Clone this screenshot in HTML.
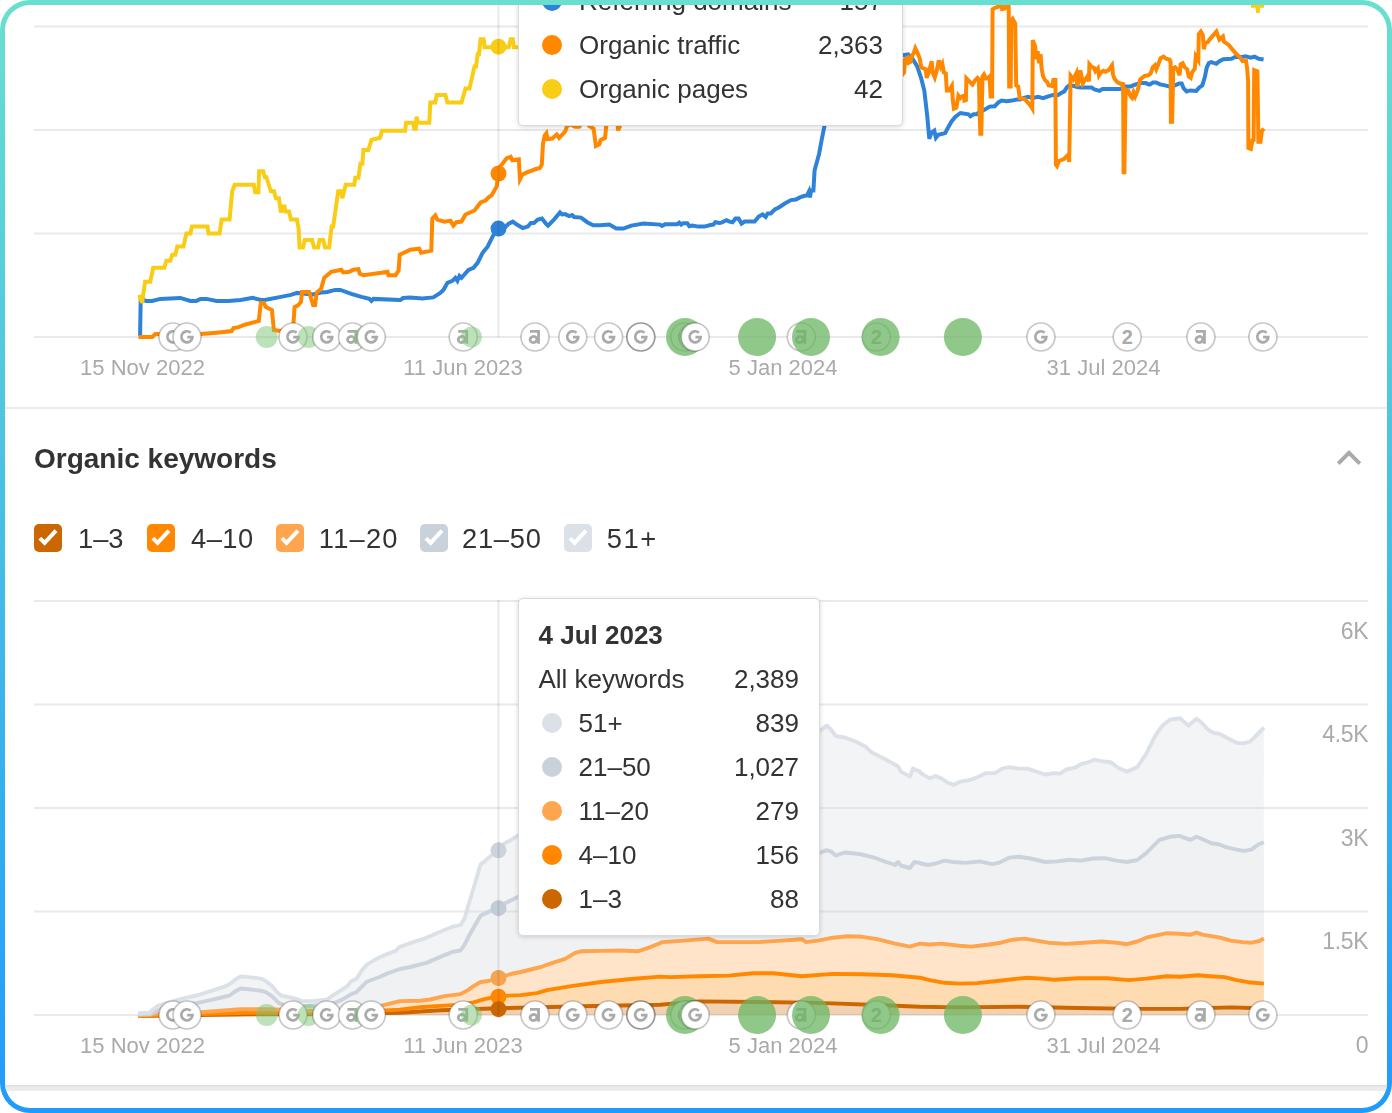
<!DOCTYPE html>
<html><head><meta charset="utf-8"><title>Organic keywords</title>
<style>
html,body{margin:0;padding:0;background:#fff}
body{width:1392px;height:1113px;overflow:hidden;position:relative;font-family:"Liberation Sans",sans-serif}
#frame{position:absolute;left:0;top:0;width:1392px;height:1113px;border-radius:30px;background:linear-gradient(180deg,#69dfd0 0%,#219bfb 100%)}
#inner{position:absolute;left:5px;top:5px;width:1382px;height:1103px;border-radius:25px;background:#fff;overflow:hidden}
#c{position:absolute;left:-5px;top:-5px;width:1392px;height:1113px;will-change:transform}
.t{position:absolute;white-space:nowrap}
.cb{position:absolute;width:28px;height:28px;border-radius:5px}
.cb svg{display:block}
.dot{position:absolute;width:20px;height:20px;border-radius:50%}
.tip{position:absolute;background:#fff;border:1px solid #dadada;border-radius:5px;box-shadow:0 1px 5px rgba(0,0,0,0.16)}
</style></head><body>
<div id="frame"><div id="inner">
<svg width="1392" height="1113" viewBox="0 0 1392 1113" style="position:absolute;left:-5px;top:-5px"><rect x="34" y="25.5" width="1334" height="2" fill="#e9e9e9"/>
<rect x="34" y="129" width="1334" height="2" fill="#e9e9e9"/>
<rect x="34" y="232.5" width="1334" height="2" fill="#e9e9e9"/>
<rect x="34" y="336" width="1334" height="2" fill="#e9e9e9"/>
<rect x="34" y="600" width="1334" height="2" fill="#e9e9e9"/>
<rect x="34" y="703.5" width="1334" height="2" fill="#e9e9e9"/>
<rect x="34" y="807" width="1334" height="2" fill="#e9e9e9"/>
<rect x="34" y="910.5" width="1334" height="2" fill="#e9e9e9"/>
<rect x="34" y="1014" width="1334" height="2" fill="#e9e9e9"/>
<rect x="0" y="407" width="1392" height="2" fill="#ebebeb"/>
<rect x="0" y="1085" width="1392" height="6" fill="#ebecee"/>
<rect x="0" y="1085" width="1392" height="1.5" fill="#dcdfe2"/>
<path d="M140.1,336.1 L140.7,298.9 L146.1,300.9 L152.2,300.9 L160.2,298.9 L180.3,297.9 L190.4,300.9 L196.4,300.9 L200.5,298.9 L206.5,298.9 L216.6,300.9 L228.6,300.9 L240.7,299.9 L252.8,297.9 L260.8,299.9 L264.8,299.9 L280.9,296.9 L291.0,294.9 L297.0,292.9 L313.1,294.5 L321.1,292.5 L327.2,291.9 L335.2,289.9 L340.3,289.9 L351.3,293.9 L361.4,296.9 L369.4,298.9 L371.4,300.9 L373.4,298.9 L400.0,299.9 L401.1,299.6 L403.1,298.0 L410.2,297.4 L422.2,298.4 L433.3,297.4 L440.3,293.0 L443.4,290.0 L447.4,282.9 L452.4,280.9 L455.4,277.9 L457.4,280.9 L459.5,275.9 L461.5,277.9 L468.5,269.9 L473.5,267.8 L477.6,262.8 L482.6,252.8 L487.6,246.7 L491.6,238.7 L494.7,232.6 L498.3,228.6 L504.7,227.6 L508.7,223.6 L512.8,221.6 L516.8,224.6 L522.8,228.0 L527.8,226.6 L530.9,223.0 L533.9,223.0 L537.9,219.6 L541.9,218.6 L545.9,223.6 L548.0,225.6 L554.0,219.6 L560.0,212.5 L562.0,214.5 L565.1,214.1 L569.1,216.1 L572.1,215.1 L574.1,217.0 L581.1,217.6 L587.2,222.2 L593.2,225.2 L600.3,225.2 L609.3,224.6 L616.4,228.6 L623.4,228.6 L631.4,225.6 L643.5,223.6 L660.0,224.6 L662.1,226.0 L665.1,224.2 L677.2,224.2 L679.2,222.6 L681.2,224.6 L683.2,223.2 L687.3,223.2 L689.3,226.2 L692.3,225.6 L698.3,226.6 L704.4,226.6 L710.4,225.0 L713.4,224.6 L715.4,222.2 L719.5,223.0 L721.5,222.6 L726.5,220.2 L729.5,221.6 L732.5,222.2 L735.5,218.6 L738.6,218.6 L741.6,223.6 L744.6,221.6 L754.7,221.6 L758.7,216.6 L762.7,214.5 L765.7,217.0 L767.7,213.5 L770.7,213.5 L774.8,209.5 L778.8,207.5 L784.8,203.5 L790.9,200.1 L795.9,199.5 L799.9,197.4 L803.9,196.0 L807.0,195.4 L809.0,191.4 L810.0,197.4 L811.0,190.4 L813.4,190.4 L814.6,170.3 L819.0,154.2 L822.0,138.1 L824.7,125.0 L867.9,84.5 L876.0,66.4 L886.0,58.3 L896.1,55.9 L903.1,55.3 L908.2,54.3 L912.2,58.3 L917.2,66.4 L921.2,78.4 L924.3,90.5 L927.3,116.7 L929.3,138.8 L931.3,132.8 L934.3,130.7 L935.9,137.8 L938.3,134.8 L942.4,133.8 L945.4,132.8 L947.4,128.7 L951.4,121.7 L955.4,116.7 L960.5,113.0 L968.5,114.3 L970.5,116.3 L973.5,114.3 L976.6,114.3 L980.6,111.0 L984.6,109.6 L989.6,106.6 L994.7,106.2 L998.7,102.2 L1001.7,100.6 L1006.7,101.2 L1011.8,100.6 L1016.8,99.6 L1020.0,99.5 L1024.0,97.9 L1028.0,96.9 L1033.1,97.9 L1038.1,96.9 L1043.1,98.2 L1048.2,96.4 L1053.2,94.9 L1058.2,94.9 L1061.2,92.9 L1064.3,91.4 L1066.8,87.4 L1069.3,85.4 L1074.3,85.9 L1076.3,86.9 L1080.3,87.4 L1085.4,87.4 L1091.4,87.4 L1094.4,89.4 L1099.5,90.9 L1102.5,88.9 L1120.6,88.9 L1124.6,86.4 L1130.6,86.4 L1135.7,84.4 L1140.7,82.9 L1145.7,82.9 L1148.7,84.4 L1150.0,84.4 L1153.0,82.4 L1156.0,82.4 L1160.1,84.4 L1165.1,85.4 L1169.1,86.4 L1175.1,85.4 L1179.2,83.4 L1181.7,83.4 L1183.7,88.4 L1186.7,91.4 L1190.2,90.4 L1196.3,90.9 L1199.3,87.4 L1202.3,85.4 L1204.8,77.3 L1206.8,67.3 L1208.8,63.2 L1211.4,62.2 L1216.4,63.8 L1219.4,61.2 L1223.4,59.2 L1231.5,58.7 L1235.5,56.7 L1240.5,57.2 L1245.5,56.2 L1250.6,57.7 L1254.6,56.7 L1258.6,58.7 L1263.6,59.4" fill="none" stroke="#2e83d8" stroke-width="4" stroke-linejoin="miter"/>
<path d="M138.5,337.1 L152.2,337.1 L155.2,334.1 L160.2,334.1 L180.3,334.7 L200.5,334.1 L216.6,332.7 L231.6,331.1 L233.6,328.1 L238.7,327.1 L244.7,324.7 L258.8,321.0 L260.8,302.9 L263.8,302.9 L265.8,307.0 L271.9,310.0 L273.9,330.1 L280.9,331.1 L293.4,324.1 L294.6,307.0 L298.0,305.3 L301.0,301.9 L302.0,291.9 L309.1,291.9 L313.1,304.9 L315.1,304.9 L316.7,292.5 L321.1,288.9 L324.2,277.8 L331.2,271.8 L341.3,269.7 L343.3,272.4 L349.3,271.8 L353.3,269.7 L358.4,269.1 L359.8,273.8 L363.4,275.2 L381.5,272.8 L387.5,271.8 L388.5,275.2 L395.6,275.2 L398.6,270.7 L399.7,254.8 L410.2,249.7 L419.2,248.7 L421.2,252.8 L431.3,250.7 L432.3,218.6 L435.3,215.5 L437.3,219.6 L444.4,221.6 L450.4,220.6 L453.4,225.6 L456.4,222.2 L461.5,221.6 L465.5,214.5 L474.5,210.5 L480.6,202.5 L485.6,200.5 L488.6,197.4 L491.6,195.4 L496.7,186.4 L498.3,173.9 L499.7,167.3 L506.7,158.2 L510.7,156.8 L512.4,160.2 L518.8,159.2 L520.0,179.3 L522.3,174.7 L526.9,172.4 L536.1,169.0 L540.1,167.8 L541.8,164.4 L543.0,143.7 L544.7,135.6 L546.4,133.3 L547.6,139.1 L552.2,138.5 L556.8,134.5 L559.1,137.9 L562.5,134.5 L565.4,131.0 L567.1,125.9 L570.6,124.4 L575.2,126.7 L579.2,126.7 L582.1,123.0 L586.7,121.8 L589.0,125.9 L593.6,128.7 L595.9,146.0 L599.3,144.3 L600.5,140.2 L605.1,137.9 L606.2,125.9 L610.8,120.7 L616.6,123.0 L617.7,125.9 L618.0,130.5 L620.0,125.9 L621.1,117.2 L630.0,110.0 L660.0,95.0 L700.0,85.0 L740.0,80.0 L780.0,75.0 L820.0,70.0 L860.0,68.0 L890.0,66.0 L902.6,74.4 L904.1,72.4 L905.1,59.3 L907.6,57.8 L908.6,62.9 L910.6,61.9 L911.6,56.3 L913.6,53.3 L915.3,48.3 L917.7,53.3 L919.7,58.3 L921.2,67.4 L923.7,68.4 L925.7,69.4 L926.7,77.9 L928.7,72.4 L931.7,61.4 L932.7,72.4 L934.8,77.4 L936.8,70.4 L938.8,60.3 L940.8,66.9 L942.3,63.9 L943.8,72.4 L945.8,73.4 L946.8,90.5 L949.3,90.5 L951.9,86.0 L952.9,100.6 L953.9,108.6 L956.4,107.6 L958.4,95.5 L960.4,98.1 L961.9,96.6 L963.9,95.5 L964.4,100.6 L965.9,100.1 L966.4,78.4 L968.4,80.5 L972.5,84.5 L975.0,80.5 L977.5,77.9 L979.0,79.5 L979.5,110.0 L980.3,133.8 L981.3,133.8 L982.5,76.4 L984.0,74.4 L986.0,78.4 L988.1,77.9 L989.6,76.4 L990.6,96.6 L992.1,96.6 L992.6,9.1 L995.6,7.5 L999.1,6.5 L1001.1,5.0 L1002.1,9.1 L1004.7,8.5 L1005.7,5.0 L1008.7,5.0 L1009.2,86.5 L1010.7,86.5 L1011.2,21.6 L1012.7,19.1 L1015.2,23.6 L1016.2,85.5 L1018.2,86.5 L1019.7,98.1 L1024.8,99.1 L1028.8,103.6 L1031.1,106.5 L1032.3,108.5 L1032.8,40.1 L1035.1,46.1 L1036.1,59.2 L1037.6,51.2 L1039.1,63.2 L1040.6,54.2 L1041.6,68.3 L1043.1,76.3 L1045.1,80.3 L1047.2,81.9 L1048.7,85.4 L1052.2,85.9 L1053.4,80.1 L1055.4,80.1 L1055.9,164.5 L1057.0,166.0 L1059.0,161.0 L1064.0,159.0 L1068.0,155.0 L1069.2,162.0 L1070.6,75.8 L1073.3,79.3 L1074.8,76.3 L1076.3,73.3 L1077.1,86.4 L1079.3,80.3 L1080.3,70.3 L1082.9,83.4 L1085.4,79.3 L1087.4,76.3 L1088.9,81.4 L1089.4,64.3 L1091.9,67.3 L1093.9,67.8 L1095.4,71.3 L1097.9,68.3 L1099.0,75.3 L1101.0,72.3 L1103.5,70.8 L1105.5,71.8 L1108.5,70.3 L1112.0,65.3 L1113.0,74.3 L1114.5,78.8 L1117.1,81.9 L1119.6,83.4 L1122.1,84.4 L1123.1,82.4 L1123.6,172.3 L1124.4,172.3 L1125.6,89.4 L1128.1,90.4 L1130.6,96.4 L1132.1,97.9 L1133.6,92.4 L1135.2,96.4 L1137.7,90.4 L1140.2,79.3 L1144.7,75.8 L1148.2,75.3 L1150.7,73.3 L1152.8,67.3 L1154.8,65.3 L1156.3,69.3 L1158.3,64.3 L1160.6,58.2 L1163.6,56.7 L1166.1,58.7 L1169.6,59.7 L1170.6,62.2 L1170.9,121.8 L1172.1,121.8 L1173.3,68.3 L1175.1,67.3 L1177.7,70.3 L1179.5,75.3 L1180.7,64.3 L1182.7,63.2 L1184.7,67.3 L1187.2,69.3 L1188.7,76.3 L1190.7,77.8 L1192.2,72.3 L1194.8,68.8 L1195.8,56.2 L1198.3,60.2 L1198.8,34.1 L1200.8,31.6 L1202.8,35.1 L1203.8,49.2 L1205.3,43.1 L1207.8,42.1 L1210.3,38.6 L1213.4,35.1 L1216.4,31.6 L1219.4,39.6 L1222.9,36.6 L1223.9,41.6 L1229.0,45.1 L1232.5,49.7 L1236.5,54.2 L1240.0,57.2 L1242.5,61.2 L1246.0,60.7 L1247.1,68.3 L1248.1,80.3 L1248.4,147.9 L1250.8,148.9 L1252.8,138.8 L1253.6,141.8 L1254.2,70.2 L1257.4,71.4 L1258.4,141.8 L1260.5,141.8 L1261.9,130.8 L1263.9,128.7" fill="none" stroke="#ff8800" stroke-width="4" stroke-linejoin="miter"/>
<path d="M139.1,294.9 L142.1,302.9 L145.1,281.8 L150.2,281.8 L153.2,267.7 L164.3,267.7 L166.3,260.7 L170.3,260.7 L172.3,254.7 L175.3,254.7 L177.3,246.6 L183.4,246.6 L186.4,233.5 L190.4,233.5 L192.0,226.5 L207.5,226.5 L208.5,233.5 L219.6,233.5 L221.6,219.5 L229.6,219.5 L232.2,191.3 L234.7,184.7 L253.8,184.7 L255.2,192.3 L258.4,192.3 L259.2,171.2 L263.2,171.2 L264.8,177.2 L266.4,177.2 L270.9,191.3 L273.9,191.3 L275.9,198.3 L278.9,198.3 L280.9,212.4 L282.5,206.4 L284.5,206.4 L285.3,211.4 L289.0,211.4 L291.0,219.5 L297.0,219.5 L298.6,228.5 L299.6,247.6 L303.0,247.6 L304.7,240.0 L312.1,240.0 L314.1,247.6 L318.1,247.6 L319.5,240.0 L323.2,240.0 L325.2,247.6 L329.2,247.6 L331.6,226.5 L333.2,226.5 L338.2,191.3 L341.3,191.3 L342.3,198.3 L345.7,184.7 L354.3,184.7 L355.3,177.8 L358.4,177.8 L360.4,163.7 L362.4,163.7 L363.4,150.1 L368.4,150.1 L371.4,140.0 L380.0,137.8 L382.0,130.7 L405.1,130.7 L406.1,122.7 L413.2,122.7 L414.2,128.7 L415.8,128.7 L416.6,116.7 L417.8,122.7 L429.3,122.7 L430.3,102.6 L435.3,102.6 L436.7,94.9 L445.4,94.9 L447.4,102.6 L461.5,102.6 L463.5,95.5 L465.5,88.5 L469.5,88.5 L474.5,66.4 L476.1,66.4 L477.6,54.3 L479.0,54.3 L480.6,39.2 L483.6,39.2 L484.6,47.3 L508.7,47.3 L510.7,39.2 L512.8,39.2 L513.8,47.3 L520.8,47.3" fill="none" stroke="#f9cd15" stroke-width="4" stroke-linejoin="miter"/>
<path d="M1251,3 L1264,3 L1264,7.7 L1260.1,7.7 L1259.7,13 L1256.1,13 L1255.6,7.7 L1251,7.7 Z" fill="#f9cd15"/>
<circle cx="498.5" cy="46.7" r="8" fill="#f9cd15"/>
<circle cx="498.5" cy="173.5" r="8" fill="#ff8800"/>
<circle cx="498.5" cy="228.6" r="8" fill="#2e83d8"/>
<path d="M138.1,1013.2 L149.2,1012.8 L153.2,1009.2 L157.2,1006.2 L166.3,1003.2 L180.3,999.1 L196.4,995.5 L210.5,991.1 L224.6,986.7 L229.6,984.1 L235.7,979.4 L240.7,976.4 L250.7,977.4 L260.8,978.6 L265.8,981.0 L271.9,986.1 L276.9,992.1 L280.9,995.5 L289.0,997.1 L297.0,999.1 L301.0,1001.1 L313.1,1001.1 L327.2,999.5 L333.2,995.1 L341.3,990.1 L347.3,986.1 L351.3,981.0 L356.4,979.0 L361.4,971.0 L366.4,964.9 L371.4,961.9 L379.5,957.3 L387.5,953.9 L395.6,950.9 L400.0,946.8 L410.2,943.2 L426.3,937.8 L440.3,931.8 L452.4,926.7 L460.5,925.1 L464.5,918.7 L468.5,904.6 L473.5,888.5 L477.6,874.4 L480.6,864.4 L484.6,861.4 L491.6,855.3 L498.3,850.3 L504.7,843.2 L510.7,840.2 L518.8,835.2 L560.0,815.0 L620.0,790.0 L680.0,765.0 L740.0,745.0 L790.0,735.0 L818.9,731.5 L826.9,725.6 L831.3,730.0 L835.8,736.0 L844.7,737.5 L856.5,741.9 L865.4,746.4 L871.4,752.3 L886.2,759.7 L898.1,766.5 L901.0,771.6 L909.9,776.6 L912.9,768.6 L920.0,771.6 L920.8,773.1 L929.7,778.4 L935.6,776.0 L941.5,778.4 L947.5,782.5 L953.4,784.9 L959.3,781.9 L971.2,779.6 L980.1,776.0 L986.0,773.1 L994.9,773.1 L1002.3,768.6 L1009.7,767.1 L1018.6,768.6 L1027.5,768.6 L1036.4,771.6 L1045.3,774.5 L1054.2,773.1 L1060.2,773.6 L1066.1,769.5 L1075.0,767.7 L1080.9,764.2 L1086.9,762.7 L1094.3,759.7 L1101.7,761.2 L1110.6,762.1 L1118.0,767.7 L1126.9,771.6 L1137.3,767.1 L1146.2,753.8 L1155.1,736.0 L1162.5,725.6 L1169.9,719.7 L1180.0,718.2 L1188.5,725.6 L1196.5,718.8 L1201.0,722.0 L1208.4,730.0 L1214.3,733.0 L1218.8,733.6 L1226.2,737.5 L1236.6,742.8 L1242.5,743.4 L1249.9,741.9 L1257.3,734.5 L1263.9,727.7 L1263.9,842.2 L1258.8,844.2 L1251.4,849.6 L1244.0,850.8 L1236.6,849.6 L1226.2,847.2 L1218.8,844.2 L1211.4,843.3 L1203.9,839.8 L1196.5,836.8 L1190.6,839.8 L1183.2,837.4 L1180.0,835.9 L1169.9,836.8 L1159.5,839.8 L1152.1,847.2 L1146.2,853.1 L1137.3,860.0 L1126.9,862.0 L1116.5,860.6 L1104.7,858.2 L1092.8,858.5 L1080.9,860.6 L1069.1,859.7 L1057.2,861.4 L1045.3,862.0 L1030.5,858.5 L1018.6,856.7 L1009.7,857.6 L999.4,862.6 L991.9,864.1 L980.1,861.4 L965.3,862.9 L953.4,862.0 L944.5,860.6 L935.6,863.5 L928.2,865.0 L920.8,863.5 L920.0,862.9 L914.4,862.0 L909.9,868.0 L901.0,865.6 L898.1,862.0 L895.1,865.0 L886.2,862.0 L874.3,857.6 L859.5,854.0 L844.7,852.5 L835.8,855.5 L831.3,851.7 L826.9,850.2 L818.9,853.1 L790.0,854.0 L740.0,856.0 L680.0,860.0 L620.0,868.0 L560.0,882.0 L518.8,896.6 L510.7,900.6 L504.7,903.6 L498.3,908.2 L491.6,910.6 L484.6,913.6 L480.6,915.7 L477.6,920.7 L473.5,927.7 L468.5,936.8 L464.5,944.8 L460.5,950.5 L452.4,951.9 L440.3,956.9 L426.3,962.9 L410.2,967.0 L400.0,969.0 L387.5,973.4 L379.5,977.0 L371.4,980.0 L366.4,982.0 L361.4,987.1 L356.4,992.1 L351.3,994.1 L341.3,1000.1 L333.2,1003.2 L321.1,1005.2 L301.0,1006.2 L284.9,1005.2 L278.9,1003.2 L271.9,996.1 L265.8,992.1 L260.8,990.7 L250.7,989.5 L240.7,988.5 L235.7,991.1 L229.6,995.5 L210.5,1000.1 L196.4,1003.2 L180.3,1005.2 L160.2,1009.2 L150.2,1014.2 L138.1,1014.2Z" fill="#d8dde2" fill-opacity="0.32"/>
<path d="M138.1,1014.2 L150.2,1014.2 L160.2,1009.2 L180.3,1005.2 L196.4,1003.2 L210.5,1000.1 L229.6,995.5 L235.7,991.1 L240.7,988.5 L250.7,989.5 L260.8,990.7 L265.8,992.1 L271.9,996.1 L278.9,1003.2 L284.9,1005.2 L301.0,1006.2 L321.1,1005.2 L333.2,1003.2 L341.3,1000.1 L351.3,994.1 L356.4,992.1 L361.4,987.1 L366.4,982.0 L371.4,980.0 L379.5,977.0 L387.5,973.4 L400.0,969.0 L410.2,967.0 L426.3,962.9 L440.3,956.9 L452.4,951.9 L460.5,950.5 L464.5,944.8 L468.5,936.8 L473.5,927.7 L477.6,920.7 L480.6,915.7 L484.6,913.6 L491.6,910.6 L498.3,908.2 L504.7,903.6 L510.7,900.6 L518.8,896.6 L560.0,882.0 L620.0,868.0 L680.0,860.0 L740.0,856.0 L790.0,854.0 L818.9,853.1 L826.9,850.2 L831.3,851.7 L835.8,855.5 L844.7,852.5 L859.5,854.0 L874.3,857.6 L886.2,862.0 L895.1,865.0 L898.1,862.0 L901.0,865.6 L909.9,868.0 L914.4,862.0 L920.0,862.9 L920.8,863.5 L928.2,865.0 L935.6,863.5 L944.5,860.6 L953.4,862.0 L965.3,862.9 L980.1,861.4 L991.9,864.1 L999.4,862.6 L1009.7,857.6 L1018.6,856.7 L1030.5,858.5 L1045.3,862.0 L1057.2,861.4 L1069.1,859.7 L1080.9,860.6 L1092.8,858.5 L1104.7,858.2 L1116.5,860.6 L1126.9,862.0 L1137.3,860.0 L1146.2,853.1 L1152.1,847.2 L1159.5,839.8 L1169.9,836.8 L1180.0,835.9 L1183.2,837.4 L1190.6,839.8 L1196.5,836.8 L1203.9,839.8 L1211.4,843.3 L1218.8,844.2 L1226.2,847.2 L1236.6,849.6 L1244.0,850.8 L1251.4,849.6 L1258.8,844.2 L1263.9,842.2 L1263.9,938.6 L1258.8,941.2 L1251.4,942.7 L1242.5,942.1 L1230.6,940.6 L1220.3,937.7 L1211.4,936.2 L1202.5,934.7 L1196.5,932.6 L1190.6,934.7 L1180.0,933.8 L1166.9,933.2 L1155.1,935.6 L1146.2,937.7 L1137.3,941.5 L1126.9,944.2 L1116.5,942.7 L1101.7,941.5 L1083.9,942.7 L1066.1,943.9 L1048.3,942.7 L1036.4,940.6 L1024.6,938.6 L1012.7,939.7 L1000.8,942.7 L989.0,944.5 L971.2,946.6 L959.3,945.7 L941.5,943.6 L929.7,944.5 L920.0,943.6 L909.9,946.6 L895.1,943.6 L877.3,939.2 L862.5,936.8 L847.6,936.2 L832.8,937.7 L818.0,940.6 L806.1,942.1 L801.7,939.2 L782.4,940.6 L758.6,942.1 L734.9,942.1 L717.1,942.1 L708.2,938.6 L684.5,940.6 L662.2,942.1 L660.0,943.2 L645.5,948.9 L637.5,951.3 L621.4,950.5 L601.3,950.9 L581.1,951.3 L575.1,952.9 L565.1,958.9 L551.0,963.3 L540.9,967.0 L520.8,972.0 L510.7,974.0 L498.3,978.0 L488.6,981.0 L480.6,982.0 L473.5,986.1 L466.5,991.1 L460.5,994.1 L444.4,996.1 L430.3,999.5 L420.2,1000.7 L400.0,1001.1 L381.5,1005.6 L341.3,1011.2 L301.0,1010.8 L270.9,1009.2 L240.7,1009.2 L200.5,1012.2 L160.2,1013.6 L138.1,1015.6Z" fill="#ccd2d8" fill-opacity="0.3"/>
<path d="M138.1,1015.6 L160.2,1013.6 L200.5,1012.2 L240.7,1009.2 L270.9,1009.2 L301.0,1010.8 L341.3,1011.2 L381.5,1005.6 L400.0,1001.1 L420.2,1000.7 L430.3,999.5 L444.4,996.1 L460.5,994.1 L466.5,991.1 L473.5,986.1 L480.6,982.0 L488.6,981.0 L498.3,978.0 L510.7,974.0 L520.8,972.0 L540.9,967.0 L551.0,963.3 L565.1,958.9 L575.1,952.9 L581.1,951.3 L601.3,950.9 L621.4,950.5 L637.5,951.3 L645.5,948.9 L660.0,943.2 L662.2,942.1 L684.5,940.6 L708.2,938.6 L717.1,942.1 L734.9,942.1 L758.6,942.1 L782.4,940.6 L801.7,939.2 L806.1,942.1 L818.0,940.6 L832.8,937.7 L847.6,936.2 L862.5,936.8 L877.3,939.2 L895.1,943.6 L909.9,946.6 L920.0,943.6 L929.7,944.5 L941.5,943.6 L959.3,945.7 L971.2,946.6 L989.0,944.5 L1000.8,942.7 L1012.7,939.7 L1024.6,938.6 L1036.4,940.6 L1048.3,942.7 L1066.1,943.9 L1083.9,942.7 L1101.7,941.5 L1116.5,942.7 L1126.9,944.2 L1137.3,941.5 L1146.2,937.7 L1155.1,935.6 L1166.9,933.2 L1180.0,933.8 L1190.6,934.7 L1196.5,932.6 L1202.5,934.7 L1211.4,936.2 L1220.3,937.7 L1230.6,940.6 L1242.5,942.1 L1251.4,942.7 L1258.8,941.2 L1263.9,938.6 L1263.9,983.6 L1248.4,982.2 L1236.6,980.1 L1224.7,977.1 L1209.9,976.2 L1198.0,975.3 L1186.2,976.2 L1180.0,976.8 L1166.9,976.2 L1146.2,978.6 L1128.4,980.1 L1107.6,978.3 L1078.0,978.3 L1054.2,979.8 L1042.4,978.6 L1027.5,977.7 L1012.7,979.2 L994.9,981.3 L977.1,983.1 L959.3,983.6 L944.5,982.8 L929.7,980.1 L920.0,977.7 L892.1,975.3 L862.5,974.2 L832.8,973.9 L801.7,976.2 L773.5,973.3 L752.7,973.3 L729.0,975.6 L699.3,976.2 L669.7,977.1 L660.0,976.6 L631.4,979.0 L601.3,982.0 L571.1,986.1 L547.0,990.1 L536.9,993.1 L520.8,995.1 L498.3,996.1 L484.6,999.1 L474.5,1002.2 L460.5,1004.8 L444.4,1005.6 L420.2,1007.2 L400.0,1009.6 L361.4,1011.6 L321.1,1012.8 L260.8,1012.4 L200.5,1014.0 L138.1,1015.8Z" fill="#ffa54d" fill-opacity="0.3"/>
<path d="M138.1,1015.8 L200.5,1014.0 L260.8,1012.4 L321.1,1012.8 L361.4,1011.6 L400.0,1009.6 L420.2,1007.2 L444.4,1005.6 L460.5,1004.8 L474.5,1002.2 L484.6,999.1 L498.3,996.1 L520.8,995.1 L536.9,993.1 L547.0,990.1 L571.1,986.1 L601.3,982.0 L631.4,979.0 L660.0,976.6 L669.7,977.1 L699.3,976.2 L729.0,975.6 L752.7,973.3 L773.5,973.3 L801.7,976.2 L832.8,973.9 L862.5,974.2 L892.1,975.3 L920.0,977.7 L929.7,980.1 L944.5,982.8 L959.3,983.6 L977.1,983.1 L994.9,981.3 L1012.7,979.2 L1027.5,977.7 L1042.4,978.6 L1054.2,979.8 L1078.0,978.3 L1107.6,978.3 L1128.4,980.1 L1146.2,978.6 L1166.9,976.2 L1180.0,976.8 L1186.2,976.2 L1198.0,975.3 L1209.9,976.2 L1224.7,977.1 L1236.6,980.1 L1248.4,982.2 L1263.9,983.6 L1263.9,1008.9 L1251.4,1008.0 L1230.6,1007.4 L1201.0,1008.3 L1180.0,1008.9 L1137.3,1008.9 L1078.0,1008.0 L1018.6,1006.8 L959.3,1007.4 L920.0,1006.8 L877.3,1005.0 L818.0,1002.9 L758.6,1002.0 L699.3,1001.4 L660.0,1004.8 L581.1,1006.2 L540.9,1007.2 L498.3,1008.2 L470.5,1009.2 L440.3,1010.2 L400.0,1012.8 L321.1,1014.4 L260.8,1014.2 L200.5,1015.0 L138.1,1016.0Z" fill="#ff8800" fill-opacity="0.3"/>
<path d="M138.1,1016.0 L200.5,1015.0 L260.8,1014.2 L321.1,1014.4 L400.0,1012.8 L440.3,1010.2 L470.5,1009.2 L498.3,1008.2 L540.9,1007.2 L581.1,1006.2 L660.0,1004.8 L699.3,1001.4 L758.6,1002.0 L818.0,1002.9 L877.3,1005.0 L920.0,1006.8 L959.3,1007.4 L1018.6,1006.8 L1078.0,1008.0 L1137.3,1008.9 L1180.0,1008.9 L1201.0,1008.3 L1230.6,1007.4 L1251.4,1008.0 L1263.9,1008.9 L1263.9,1015.0 L138.1,1015.0Z" fill="#cc6600" fill-opacity="0.3"/>
<path d="M138.1,1016.0 L200.5,1015.0 L260.8,1014.2 L321.1,1014.4 L400.0,1012.8 L440.3,1010.2 L470.5,1009.2 L498.3,1008.2 L540.9,1007.2 L581.1,1006.2 L660.0,1004.8 L699.3,1001.4 L758.6,1002.0 L818.0,1002.9 L877.3,1005.0 L920.0,1006.8 L959.3,1007.4 L1018.6,1006.8 L1078.0,1008.0 L1137.3,1008.9 L1180.0,1008.9 L1201.0,1008.3 L1230.6,1007.4 L1251.4,1008.0 L1263.9,1008.9" fill="none" stroke="#cc6600" stroke-width="3.9" stroke-linejoin="round"/>
<path d="M138.1,1015.8 L200.5,1014.0 L260.8,1012.4 L321.1,1012.8 L361.4,1011.6 L400.0,1009.6 L420.2,1007.2 L444.4,1005.6 L460.5,1004.8 L474.5,1002.2 L484.6,999.1 L498.3,996.1 L520.8,995.1 L536.9,993.1 L547.0,990.1 L571.1,986.1 L601.3,982.0 L631.4,979.0 L660.0,976.6 L669.7,977.1 L699.3,976.2 L729.0,975.6 L752.7,973.3 L773.5,973.3 L801.7,976.2 L832.8,973.9 L862.5,974.2 L892.1,975.3 L920.0,977.7 L929.7,980.1 L944.5,982.8 L959.3,983.6 L977.1,983.1 L994.9,981.3 L1012.7,979.2 L1027.5,977.7 L1042.4,978.6 L1054.2,979.8 L1078.0,978.3 L1107.6,978.3 L1128.4,980.1 L1146.2,978.6 L1166.9,976.2 L1180.0,976.8 L1186.2,976.2 L1198.0,975.3 L1209.9,976.2 L1224.7,977.1 L1236.6,980.1 L1248.4,982.2 L1263.9,983.6" fill="none" stroke="#ff8800" stroke-width="3.9" stroke-linejoin="round"/>
<path d="M138.1,1015.6 L160.2,1013.6 L200.5,1012.2 L240.7,1009.2 L270.9,1009.2 L301.0,1010.8 L341.3,1011.2 L381.5,1005.6 L400.0,1001.1 L420.2,1000.7 L430.3,999.5 L444.4,996.1 L460.5,994.1 L466.5,991.1 L473.5,986.1 L480.6,982.0 L488.6,981.0 L498.3,978.0 L510.7,974.0 L520.8,972.0 L540.9,967.0 L551.0,963.3 L565.1,958.9 L575.1,952.9 L581.1,951.3 L601.3,950.9 L621.4,950.5 L637.5,951.3 L645.5,948.9 L660.0,943.2 L662.2,942.1 L684.5,940.6 L708.2,938.6 L717.1,942.1 L734.9,942.1 L758.6,942.1 L782.4,940.6 L801.7,939.2 L806.1,942.1 L818.0,940.6 L832.8,937.7 L847.6,936.2 L862.5,936.8 L877.3,939.2 L895.1,943.6 L909.9,946.6 L920.0,943.6 L929.7,944.5 L941.5,943.6 L959.3,945.7 L971.2,946.6 L989.0,944.5 L1000.8,942.7 L1012.7,939.7 L1024.6,938.6 L1036.4,940.6 L1048.3,942.7 L1066.1,943.9 L1083.9,942.7 L1101.7,941.5 L1116.5,942.7 L1126.9,944.2 L1137.3,941.5 L1146.2,937.7 L1155.1,935.6 L1166.9,933.2 L1180.0,933.8 L1190.6,934.7 L1196.5,932.6 L1202.5,934.7 L1211.4,936.2 L1220.3,937.7 L1230.6,940.6 L1242.5,942.1 L1251.4,942.7 L1258.8,941.2 L1263.9,938.6" fill="none" stroke="#ffa54d" stroke-width="3.9" stroke-linejoin="round"/>
<path d="M138.1,1014.2 L150.2,1014.2 L160.2,1009.2 L180.3,1005.2 L196.4,1003.2 L210.5,1000.1 L229.6,995.5 L235.7,991.1 L240.7,988.5 L250.7,989.5 L260.8,990.7 L265.8,992.1 L271.9,996.1 L278.9,1003.2 L284.9,1005.2 L301.0,1006.2 L321.1,1005.2 L333.2,1003.2 L341.3,1000.1 L351.3,994.1 L356.4,992.1 L361.4,987.1 L366.4,982.0 L371.4,980.0 L379.5,977.0 L387.5,973.4 L400.0,969.0 L410.2,967.0 L426.3,962.9 L440.3,956.9 L452.4,951.9 L460.5,950.5 L464.5,944.8 L468.5,936.8 L473.5,927.7 L477.6,920.7 L480.6,915.7 L484.6,913.6 L491.6,910.6 L498.3,908.2 L504.7,903.6 L510.7,900.6 L518.8,896.6 L560.0,882.0 L620.0,868.0 L680.0,860.0 L740.0,856.0 L790.0,854.0 L818.9,853.1 L826.9,850.2 L831.3,851.7 L835.8,855.5 L844.7,852.5 L859.5,854.0 L874.3,857.6 L886.2,862.0 L895.1,865.0 L898.1,862.0 L901.0,865.6 L909.9,868.0 L914.4,862.0 L920.0,862.9 L920.8,863.5 L928.2,865.0 L935.6,863.5 L944.5,860.6 L953.4,862.0 L965.3,862.9 L980.1,861.4 L991.9,864.1 L999.4,862.6 L1009.7,857.6 L1018.6,856.7 L1030.5,858.5 L1045.3,862.0 L1057.2,861.4 L1069.1,859.7 L1080.9,860.6 L1092.8,858.5 L1104.7,858.2 L1116.5,860.6 L1126.9,862.0 L1137.3,860.0 L1146.2,853.1 L1152.1,847.2 L1159.5,839.8 L1169.9,836.8 L1180.0,835.9 L1183.2,837.4 L1190.6,839.8 L1196.5,836.8 L1203.9,839.8 L1211.4,843.3 L1218.8,844.2 L1226.2,847.2 L1236.6,849.6 L1244.0,850.8 L1251.4,849.6 L1258.8,844.2 L1263.9,842.2" fill="none" stroke="#ccd3dc" stroke-width="3.9" stroke-linejoin="round"/>
<path d="M138.1,1013.2 L149.2,1012.8 L153.2,1009.2 L157.2,1006.2 L166.3,1003.2 L180.3,999.1 L196.4,995.5 L210.5,991.1 L224.6,986.7 L229.6,984.1 L235.7,979.4 L240.7,976.4 L250.7,977.4 L260.8,978.6 L265.8,981.0 L271.9,986.1 L276.9,992.1 L280.9,995.5 L289.0,997.1 L297.0,999.1 L301.0,1001.1 L313.1,1001.1 L327.2,999.5 L333.2,995.1 L341.3,990.1 L347.3,986.1 L351.3,981.0 L356.4,979.0 L361.4,971.0 L366.4,964.9 L371.4,961.9 L379.5,957.3 L387.5,953.9 L395.6,950.9 L400.0,946.8 L410.2,943.2 L426.3,937.8 L440.3,931.8 L452.4,926.7 L460.5,925.1 L464.5,918.7 L468.5,904.6 L473.5,888.5 L477.6,874.4 L480.6,864.4 L484.6,861.4 L491.6,855.3 L498.3,850.3 L504.7,843.2 L510.7,840.2 L518.8,835.2 L560.0,815.0 L620.0,790.0 L680.0,765.0 L740.0,745.0 L790.0,735.0 L818.9,731.5 L826.9,725.6 L831.3,730.0 L835.8,736.0 L844.7,737.5 L856.5,741.9 L865.4,746.4 L871.4,752.3 L886.2,759.7 L898.1,766.5 L901.0,771.6 L909.9,776.6 L912.9,768.6 L920.0,771.6 L920.8,773.1 L929.7,778.4 L935.6,776.0 L941.5,778.4 L947.5,782.5 L953.4,784.9 L959.3,781.9 L971.2,779.6 L980.1,776.0 L986.0,773.1 L994.9,773.1 L1002.3,768.6 L1009.7,767.1 L1018.6,768.6 L1027.5,768.6 L1036.4,771.6 L1045.3,774.5 L1054.2,773.1 L1060.2,773.6 L1066.1,769.5 L1075.0,767.7 L1080.9,764.2 L1086.9,762.7 L1094.3,759.7 L1101.7,761.2 L1110.6,762.1 L1118.0,767.7 L1126.9,771.6 L1137.3,767.1 L1146.2,753.8 L1155.1,736.0 L1162.5,725.6 L1169.9,719.7 L1180.0,718.2 L1188.5,725.6 L1196.5,718.8 L1201.0,722.0 L1208.4,730.0 L1214.3,733.0 L1218.8,733.6 L1226.2,737.5 L1236.6,742.8 L1242.5,743.4 L1249.9,741.9 L1257.3,734.5 L1263.9,727.7" fill="none" stroke="#dce1e8" stroke-width="3.9" stroke-linejoin="round"/>
<circle cx="498.5" cy="850.3" r="8" fill="#ccd3dc"/>
<circle cx="498.5" cy="908.2" r="8" fill="#c3cbd6"/>
<circle cx="498.5" cy="978" r="8" fill="#f5a552"/>
<circle cx="498.5" cy="996.7" r="8" fill="#ff8800"/>
<circle cx="498.5" cy="1009.2" r="8" fill="#cc6600"/>
<rect x="497.5" y="0" width="2" height="337" fill="#000" fill-opacity="0.085"/>
<rect x="497.5" y="600" width="2" height="415" fill="#000" fill-opacity="0.085"/>
<circle cx="173" cy="337" r="14" fill="#fff" stroke="rgba(0,0,0,0.22)" stroke-width="1.7"/><path transform="translate(172.9,336.8)" d="M3.79,-4.06 A5.55,5.55 0 1 0 5.55,0.3 L0.3,0.3" fill="none" stroke="#aaa" stroke-width="2.7" stroke-linejoin="miter"/><circle cx="187" cy="337" r="14" fill="#fff" stroke="rgba(0,0,0,0.22)" stroke-width="1.7"/><path transform="translate(186.9,336.8)" d="M3.79,-4.06 A5.55,5.55 0 1 0 5.55,0.3 L0.3,0.3" fill="none" stroke="#aaa" stroke-width="2.7" stroke-linejoin="miter"/><circle cx="266.7" cy="337" r="11" fill="#7cc576" fill-opacity="0.5"/><circle cx="293" cy="337" r="14" fill="#fff" stroke="rgba(0,0,0,0.22)" stroke-width="1.7"/><path transform="translate(292.9,336.8)" d="M3.79,-4.06 A5.55,5.55 0 1 0 5.55,0.3 L0.3,0.3" fill="none" stroke="#aaa" stroke-width="2.7" stroke-linejoin="miter"/><circle cx="308.6" cy="337" r="11" fill="#7cc576" fill-opacity="0.5"/><circle cx="326.8" cy="337" r="14" fill="#fff" stroke="rgba(0,0,0,0.22)" stroke-width="1.7"/><path transform="translate(326.7,336.8)" d="M3.79,-4.06 A5.55,5.55 0 1 0 5.55,0.3 L0.3,0.3" fill="none" stroke="#aaa" stroke-width="2.7" stroke-linejoin="miter"/><circle cx="352.5" cy="337" r="14" fill="#fff" stroke="rgba(0,0,0,0.22)" stroke-width="1.7"/><g transform="translate(352.5,337)" fill="none" stroke="#aaa" stroke-width="2.8"><path d="M-5,-5.65 L3.55,-5.65 L3.55,6.85" stroke-linejoin="miter"/><ellipse cx="-1.5" cy="2.5" rx="3.45" ry="3.0" transform="rotate(-12 -1.5 2.5)"/></g><circle cx="365" cy="337" r="11" fill="#7cc576" fill-opacity="0.5"/><circle cx="371.3" cy="337" r="14" fill="#fff" stroke="rgba(0,0,0,0.22)" stroke-width="1.7"/><path transform="translate(371.2,336.8)" d="M3.79,-4.06 A5.55,5.55 0 1 0 5.55,0.3 L0.3,0.3" fill="none" stroke="#aaa" stroke-width="2.7" stroke-linejoin="miter"/><circle cx="463.2" cy="337" r="14" fill="#fff" stroke="rgba(0,0,0,0.22)" stroke-width="1.7"/><g transform="translate(463.2,337)" fill="none" stroke="#aaa" stroke-width="2.8"><path d="M-5,-5.65 L3.55,-5.65 L3.55,6.85" stroke-linejoin="miter"/><ellipse cx="-1.5" cy="2.5" rx="3.45" ry="3.0" transform="rotate(-12 -1.5 2.5)"/></g><circle cx="471.5" cy="337" r="10.5" fill="#7cc576" fill-opacity="0.5"/><circle cx="535" cy="337" r="14" fill="#fff" stroke="rgba(0,0,0,0.22)" stroke-width="1.7"/><g transform="translate(535,337)" fill="none" stroke="#aaa" stroke-width="2.8"><path d="M-5,-5.65 L3.55,-5.65 L3.55,6.85" stroke-linejoin="miter"/><ellipse cx="-1.5" cy="2.5" rx="3.45" ry="3.0" transform="rotate(-12 -1.5 2.5)"/></g><circle cx="572.8" cy="337" r="14" fill="#fff" stroke="rgba(0,0,0,0.22)" stroke-width="1.7"/><path transform="translate(572.6999999999999,336.8)" d="M3.79,-4.06 A5.55,5.55 0 1 0 5.55,0.3 L0.3,0.3" fill="none" stroke="#aaa" stroke-width="2.7" stroke-linejoin="miter"/><circle cx="608.6" cy="337" r="14" fill="#fff" stroke="rgba(0,0,0,0.22)" stroke-width="1.7"/><path transform="translate(608.5,336.8)" d="M3.79,-4.06 A5.55,5.55 0 1 0 5.55,0.3 L0.3,0.3" fill="none" stroke="#aaa" stroke-width="2.7" stroke-linejoin="miter"/><circle cx="640.8" cy="337" r="14" fill="#fff" stroke="rgba(0,0,0,0.4)" stroke-width="1.7"/><path transform="translate(640.6999999999999,336.8)" d="M3.79,-4.06 A5.55,5.55 0 1 0 5.55,0.3 L0.3,0.3" fill="none" stroke="#aaa" stroke-width="2.7" stroke-linejoin="miter"/><circle cx="684.8" cy="337" r="14" fill="#fff" stroke="rgba(0,0,0,0.22)" stroke-width="1.7"/><path transform="translate(684.6999999999999,336.8)" d="M3.79,-4.06 A5.55,5.55 0 1 0 5.55,0.3 L0.3,0.3" fill="none" stroke="#aaa" stroke-width="2.7" stroke-linejoin="miter"/><circle cx="693.1" cy="337" r="14" fill="#fff" stroke="rgba(0,0,0,0.22)" stroke-width="1.7"/><path transform="translate(693.0,336.8)" d="M3.79,-4.06 A5.55,5.55 0 1 0 5.55,0.3 L0.3,0.3" fill="none" stroke="#aaa" stroke-width="2.7" stroke-linejoin="miter"/><circle cx="685" cy="337" r="19" fill="#6bb562" fill-opacity="0.75"/><circle cx="695.2" cy="337" r="14" fill="#fff" stroke="rgba(0,0,0,0.22)" stroke-width="1.7"/><path transform="translate(695.1,336.8)" d="M3.79,-4.06 A5.55,5.55 0 1 0 5.55,0.3 L0.3,0.3" fill="none" stroke="#aaa" stroke-width="2.7" stroke-linejoin="miter"/><circle cx="801.3" cy="337" r="14" fill="#fff" stroke="rgba(0,0,0,0.22)" stroke-width="1.7"/><g transform="translate(801.3,337)" fill="none" stroke="#aaa" stroke-width="2.8"><path d="M-5,-5.65 L3.55,-5.65 L3.55,6.85" stroke-linejoin="miter"/><ellipse cx="-1.5" cy="2.5" rx="3.45" ry="3.0" transform="rotate(-12 -1.5 2.5)"/></g><circle cx="876.3" cy="337" r="14" fill="#fff" stroke="rgba(0,0,0,0.22)" stroke-width="1.7"/><text x="876.3" y="343.9" text-anchor="middle" font-family="Liberation Sans, sans-serif" font-weight="700" font-size="20" fill="#aaa">2</text><circle cx="757.1" cy="337" r="19" fill="#6bb562" fill-opacity="0.75"/><circle cx="811" cy="337" r="19" fill="#6bb562" fill-opacity="0.75"/><circle cx="880.6" cy="337" r="19" fill="#6bb562" fill-opacity="0.75"/><circle cx="962.9" cy="337" r="19" fill="#6bb562" fill-opacity="0.75"/><circle cx="1040.9" cy="337" r="14" fill="#fff" stroke="rgba(0,0,0,0.22)" stroke-width="1.7"/><path transform="translate(1040.8000000000002,336.8)" d="M3.79,-4.06 A5.55,5.55 0 1 0 5.55,0.3 L0.3,0.3" fill="none" stroke="#aaa" stroke-width="2.7" stroke-linejoin="miter"/><circle cx="1127.2" cy="337" r="14" fill="#fff" stroke="rgba(0,0,0,0.22)" stroke-width="1.7"/><text x="1127.2" y="343.9" text-anchor="middle" font-family="Liberation Sans, sans-serif" font-weight="700" font-size="20" fill="#aaa">2</text><circle cx="1200.9" cy="337" r="14" fill="#fff" stroke="rgba(0,0,0,0.22)" stroke-width="1.7"/><g transform="translate(1200.9,337)" fill="none" stroke="#aaa" stroke-width="2.8"><path d="M-5,-5.65 L3.55,-5.65 L3.55,6.85" stroke-linejoin="miter"/><ellipse cx="-1.5" cy="2.5" rx="3.45" ry="3.0" transform="rotate(-12 -1.5 2.5)"/></g><circle cx="1262.9" cy="337" r="14" fill="#fff" stroke="rgba(0,0,0,0.22)" stroke-width="1.7"/><path transform="translate(1262.8000000000002,336.8)" d="M3.79,-4.06 A5.55,5.55 0 1 0 5.55,0.3 L0.3,0.3" fill="none" stroke="#aaa" stroke-width="2.7" stroke-linejoin="miter"/>
<circle cx="173" cy="1015" r="14" fill="#fff" stroke="rgba(0,0,0,0.22)" stroke-width="1.7"/><path transform="translate(172.9,1014.8)" d="M3.79,-4.06 A5.55,5.55 0 1 0 5.55,0.3 L0.3,0.3" fill="none" stroke="#aaa" stroke-width="2.7" stroke-linejoin="miter"/><circle cx="187" cy="1015" r="14" fill="#fff" stroke="rgba(0,0,0,0.22)" stroke-width="1.7"/><path transform="translate(186.9,1014.8)" d="M3.79,-4.06 A5.55,5.55 0 1 0 5.55,0.3 L0.3,0.3" fill="none" stroke="#aaa" stroke-width="2.7" stroke-linejoin="miter"/><circle cx="266.7" cy="1015" r="11" fill="#7cc576" fill-opacity="0.5"/><circle cx="293" cy="1015" r="14" fill="#fff" stroke="rgba(0,0,0,0.22)" stroke-width="1.7"/><path transform="translate(292.9,1014.8)" d="M3.79,-4.06 A5.55,5.55 0 1 0 5.55,0.3 L0.3,0.3" fill="none" stroke="#aaa" stroke-width="2.7" stroke-linejoin="miter"/><circle cx="308.6" cy="1015" r="11" fill="#7cc576" fill-opacity="0.5"/><circle cx="326.8" cy="1015" r="14" fill="#fff" stroke="rgba(0,0,0,0.22)" stroke-width="1.7"/><path transform="translate(326.7,1014.8)" d="M3.79,-4.06 A5.55,5.55 0 1 0 5.55,0.3 L0.3,0.3" fill="none" stroke="#aaa" stroke-width="2.7" stroke-linejoin="miter"/><circle cx="352.5" cy="1015" r="14" fill="#fff" stroke="rgba(0,0,0,0.22)" stroke-width="1.7"/><g transform="translate(352.5,1015)" fill="none" stroke="#aaa" stroke-width="2.8"><path d="M-5,-5.65 L3.55,-5.65 L3.55,6.85" stroke-linejoin="miter"/><ellipse cx="-1.5" cy="2.5" rx="3.45" ry="3.0" transform="rotate(-12 -1.5 2.5)"/></g><circle cx="365" cy="1015" r="11" fill="#7cc576" fill-opacity="0.5"/><circle cx="371.3" cy="1015" r="14" fill="#fff" stroke="rgba(0,0,0,0.22)" stroke-width="1.7"/><path transform="translate(371.2,1014.8)" d="M3.79,-4.06 A5.55,5.55 0 1 0 5.55,0.3 L0.3,0.3" fill="none" stroke="#aaa" stroke-width="2.7" stroke-linejoin="miter"/><circle cx="463.2" cy="1015" r="14" fill="#fff" stroke="rgba(0,0,0,0.22)" stroke-width="1.7"/><g transform="translate(463.2,1015)" fill="none" stroke="#aaa" stroke-width="2.8"><path d="M-5,-5.65 L3.55,-5.65 L3.55,6.85" stroke-linejoin="miter"/><ellipse cx="-1.5" cy="2.5" rx="3.45" ry="3.0" transform="rotate(-12 -1.5 2.5)"/></g><circle cx="471.5" cy="1015" r="10.5" fill="#7cc576" fill-opacity="0.5"/><circle cx="535" cy="1015" r="14" fill="#fff" stroke="rgba(0,0,0,0.22)" stroke-width="1.7"/><g transform="translate(535,1015)" fill="none" stroke="#aaa" stroke-width="2.8"><path d="M-5,-5.65 L3.55,-5.65 L3.55,6.85" stroke-linejoin="miter"/><ellipse cx="-1.5" cy="2.5" rx="3.45" ry="3.0" transform="rotate(-12 -1.5 2.5)"/></g><circle cx="572.8" cy="1015" r="14" fill="#fff" stroke="rgba(0,0,0,0.22)" stroke-width="1.7"/><path transform="translate(572.6999999999999,1014.8)" d="M3.79,-4.06 A5.55,5.55 0 1 0 5.55,0.3 L0.3,0.3" fill="none" stroke="#aaa" stroke-width="2.7" stroke-linejoin="miter"/><circle cx="608.6" cy="1015" r="14" fill="#fff" stroke="rgba(0,0,0,0.22)" stroke-width="1.7"/><path transform="translate(608.5,1014.8)" d="M3.79,-4.06 A5.55,5.55 0 1 0 5.55,0.3 L0.3,0.3" fill="none" stroke="#aaa" stroke-width="2.7" stroke-linejoin="miter"/><circle cx="640.8" cy="1015" r="14" fill="#fff" stroke="rgba(0,0,0,0.4)" stroke-width="1.7"/><path transform="translate(640.6999999999999,1014.8)" d="M3.79,-4.06 A5.55,5.55 0 1 0 5.55,0.3 L0.3,0.3" fill="none" stroke="#aaa" stroke-width="2.7" stroke-linejoin="miter"/><circle cx="684.8" cy="1015" r="14" fill="#fff" stroke="rgba(0,0,0,0.22)" stroke-width="1.7"/><path transform="translate(684.6999999999999,1014.8)" d="M3.79,-4.06 A5.55,5.55 0 1 0 5.55,0.3 L0.3,0.3" fill="none" stroke="#aaa" stroke-width="2.7" stroke-linejoin="miter"/><circle cx="693.1" cy="1015" r="14" fill="#fff" stroke="rgba(0,0,0,0.22)" stroke-width="1.7"/><path transform="translate(693.0,1014.8)" d="M3.79,-4.06 A5.55,5.55 0 1 0 5.55,0.3 L0.3,0.3" fill="none" stroke="#aaa" stroke-width="2.7" stroke-linejoin="miter"/><circle cx="685" cy="1015" r="19" fill="#6bb562" fill-opacity="0.75"/><circle cx="695.2" cy="1015" r="14" fill="#fff" stroke="rgba(0,0,0,0.22)" stroke-width="1.7"/><path transform="translate(695.1,1014.8)" d="M3.79,-4.06 A5.55,5.55 0 1 0 5.55,0.3 L0.3,0.3" fill="none" stroke="#aaa" stroke-width="2.7" stroke-linejoin="miter"/><circle cx="801.3" cy="1015" r="14" fill="#fff" stroke="rgba(0,0,0,0.22)" stroke-width="1.7"/><g transform="translate(801.3,1015)" fill="none" stroke="#aaa" stroke-width="2.8"><path d="M-5,-5.65 L3.55,-5.65 L3.55,6.85" stroke-linejoin="miter"/><ellipse cx="-1.5" cy="2.5" rx="3.45" ry="3.0" transform="rotate(-12 -1.5 2.5)"/></g><circle cx="876.3" cy="1015" r="14" fill="#fff" stroke="rgba(0,0,0,0.22)" stroke-width="1.7"/><text x="876.3" y="1021.9" text-anchor="middle" font-family="Liberation Sans, sans-serif" font-weight="700" font-size="20" fill="#aaa">2</text><circle cx="757.1" cy="1015" r="19" fill="#6bb562" fill-opacity="0.75"/><circle cx="811" cy="1015" r="19" fill="#6bb562" fill-opacity="0.75"/><circle cx="880.6" cy="1015" r="19" fill="#6bb562" fill-opacity="0.75"/><circle cx="962.9" cy="1015" r="19" fill="#6bb562" fill-opacity="0.75"/><circle cx="1040.9" cy="1015" r="14" fill="#fff" stroke="rgba(0,0,0,0.22)" stroke-width="1.7"/><path transform="translate(1040.8000000000002,1014.8)" d="M3.79,-4.06 A5.55,5.55 0 1 0 5.55,0.3 L0.3,0.3" fill="none" stroke="#aaa" stroke-width="2.7" stroke-linejoin="miter"/><circle cx="1127.2" cy="1015" r="14" fill="#fff" stroke="rgba(0,0,0,0.22)" stroke-width="1.7"/><text x="1127.2" y="1021.9" text-anchor="middle" font-family="Liberation Sans, sans-serif" font-weight="700" font-size="20" fill="#aaa">2</text><circle cx="1200.9" cy="1015" r="14" fill="#fff" stroke="rgba(0,0,0,0.22)" stroke-width="1.7"/><g transform="translate(1200.9,1015)" fill="none" stroke="#aaa" stroke-width="2.8"><path d="M-5,-5.65 L3.55,-5.65 L3.55,6.85" stroke-linejoin="miter"/><ellipse cx="-1.5" cy="2.5" rx="3.45" ry="3.0" transform="rotate(-12 -1.5 2.5)"/></g><circle cx="1262.9" cy="1015" r="14" fill="#fff" stroke="rgba(0,0,0,0.22)" stroke-width="1.7"/><path transform="translate(1262.8000000000002,1014.8)" d="M3.79,-4.06 A5.55,5.55 0 1 0 5.55,0.3 L0.3,0.3" fill="none" stroke="#aaa" stroke-width="2.7" stroke-linejoin="miter"/></svg>
<div id="c">
<div class="t" style="left:-57.5px;width:400px;text-align:center;top:355.3px;font-size:22px;line-height:26px;color:#aaa;font-weight:400;">15 Nov 2022</div>
<div class="t" style="left:263px;width:400px;text-align:center;top:355.3px;font-size:22px;line-height:26px;color:#aaa;font-weight:400;">11 Jun 2023</div>
<div class="t" style="left:583px;width:400px;text-align:center;top:355.3px;font-size:22px;line-height:26px;color:#aaa;font-weight:400;">5 Jan 2024</div>
<div class="t" style="left:903.5px;width:400px;text-align:center;top:355.3px;font-size:22px;line-height:26px;color:#aaa;font-weight:400;">31 Jul 2024</div>
<div class="t" style="left:-57.5px;width:400px;text-align:center;top:1032.7px;font-size:22px;line-height:26px;color:#aaa;font-weight:400;">15 Nov 2022</div>
<div class="t" style="left:263px;width:400px;text-align:center;top:1032.7px;font-size:22px;line-height:26px;color:#aaa;font-weight:400;">11 Jun 2023</div>
<div class="t" style="left:583px;width:400px;text-align:center;top:1032.7px;font-size:22px;line-height:26px;color:#aaa;font-weight:400;">5 Jan 2024</div>
<div class="t" style="left:903.5px;width:400px;text-align:center;top:1032.7px;font-size:22px;line-height:26px;color:#aaa;font-weight:400;">31 Jul 2024</div>
<div class="t" style="right:23.700000000000045px;top:617.1999999999999px;font-size:23px;line-height:28px;color:#aaa;font-weight:400;letter-spacing:-0.3px;">6K</div>
<div class="t" style="right:23.700000000000045px;top:720.3px;font-size:23px;line-height:28px;color:#aaa;font-weight:400;letter-spacing:-0.3px;">4.5K</div>
<div class="t" style="right:23.700000000000045px;top:823.6999999999999px;font-size:23px;line-height:28px;color:#aaa;font-weight:400;letter-spacing:-0.3px;">3K</div>
<div class="t" style="right:23.700000000000045px;top:927.0px;font-size:23px;line-height:28px;color:#aaa;font-weight:400;letter-spacing:-0.3px;">1.5K</div>
<div class="t" style="right:23.700000000000045px;top:1031.1px;font-size:23px;line-height:28px;color:#aaa;font-weight:400;letter-spacing:-0.3px;">0</div>
<div class="t" style="left:34px;top:442.0px;font-size:28px;line-height:34px;color:#333;font-weight:700;">Organic keywords</div>
<div class="cb" style="left:34px;top:524px;background:#cc6600"><svg width="28" height="28" viewBox="0 0 28 28"><path d="M5.9,14.2 L10.6,18.9 L22,6.6" fill="none" stroke="#fff" stroke-width="4"/></svg></div><div class="t" style="left:78px;top:522.0px;font-size:27.3px;line-height:33px;color:#333;font-weight:400;letter-spacing:0px;">1–3</div>
<div class="cb" style="left:147px;top:524px;background:#ff8800"><svg width="28" height="28" viewBox="0 0 28 28"><path d="M5.9,14.2 L10.6,18.9 L22,6.6" fill="none" stroke="#fff" stroke-width="4"/></svg></div><div class="t" style="left:191px;top:522.0px;font-size:27.3px;line-height:33px;color:#333;font-weight:400;letter-spacing:0.45px;">4–10</div>
<div class="cb" style="left:276px;top:524px;background:#ffa54d"><svg width="28" height="28" viewBox="0 0 28 28"><path d="M5.9,14.2 L10.6,18.9 L22,6.6" fill="none" stroke="#fff" stroke-width="4"/></svg></div><div class="t" style="left:318.8px;top:522.0px;font-size:27.3px;line-height:33px;color:#333;font-weight:400;letter-spacing:1.2px;">11–20</div>
<div class="cb" style="left:420px;top:524px;background:#c9d1db"><svg width="28" height="28" viewBox="0 0 28 28"><path d="M5.9,14.2 L10.6,18.9 L22,6.6" fill="none" stroke="#fff" stroke-width="4"/></svg></div><div class="t" style="left:462px;top:522.0px;font-size:27.3px;line-height:33px;color:#333;font-weight:400;letter-spacing:0.75px;">21–50</div>
<div class="cb" style="left:564px;top:524px;background:#dce1e8"><svg width="28" height="28" viewBox="0 0 28 28"><path d="M5.9,14.2 L10.6,18.9 L22,6.6" fill="none" stroke="#fff" stroke-width="4"/></svg></div><div class="t" style="left:606.8px;top:522.0px;font-size:27.3px;line-height:33px;color:#333;font-weight:400;letter-spacing:1.6px;">51+</div>
<svg style="position:absolute;left:1330px;top:444px" width="40" height="30" viewBox="0 0 40 30"><path d="M8.2,19.6 L19,8.8 L29.8,19.6" fill="none" stroke="#aaa" stroke-width="3.9"/></svg>
<div class="tip" style="left:517.5px;top:-40px;width:383.5px;height:164px"></div>
<div class="dot" style="left:542px;top:-9px;background:#2e83d8"></div>
<div class="t" style="left:579px;top:-14.5px;font-size:26px;line-height:31px;color:#333;font-weight:400;">Referring domains</div>
<div class="t" style="right:509px;top:-14.5px;font-size:26px;line-height:31px;color:#333;font-weight:400;">157</div>
<div class="dot" style="left:542px;top:35px;background:#ff8800"></div>
<div class="t" style="left:579px;top:29.5px;font-size:26px;line-height:31px;color:#333;font-weight:400;">Organic traffic</div>
<div class="t" style="right:509px;top:29.5px;font-size:26px;line-height:31px;color:#333;font-weight:400;">2,363</div>
<div class="dot" style="left:542px;top:79px;background:#f9cd15"></div>
<div class="t" style="left:579px;top:73.5px;font-size:26px;line-height:31px;color:#333;font-weight:400;">Organic pages</div>
<div class="t" style="right:509px;top:73.5px;font-size:26px;line-height:31px;color:#333;font-weight:400;">42</div>
<div class="tip" style="left:517.5px;top:598px;width:300px;height:336px"></div>
<div class="t" style="left:538.5px;top:619.5px;font-size:26px;line-height:31px;color:#333;font-weight:700;">4 Jul 2023</div>
<div class="t" style="left:538.5px;top:663.5px;font-size:26px;line-height:31px;color:#333;font-weight:400;">All keywords</div>
<div class="t" style="right:593px;top:663.5px;font-size:26px;line-height:31px;color:#333;font-weight:400;">2,389</div>
<div class="dot" style="left:542px;top:713px;background:#dce1e8"></div>
<div class="t" style="left:578.5px;top:707.5px;font-size:26px;line-height:31px;color:#333;font-weight:400;">51+</div>
<div class="t" style="right:593px;top:707.5px;font-size:26px;line-height:31px;color:#333;font-weight:400;">839</div>
<div class="dot" style="left:542px;top:757px;background:#c9d1db"></div>
<div class="t" style="left:578.5px;top:751.5px;font-size:26px;line-height:31px;color:#333;font-weight:400;">21–50</div>
<div class="t" style="right:593px;top:751.5px;font-size:26px;line-height:31px;color:#333;font-weight:400;">1,027</div>
<div class="dot" style="left:542px;top:801px;background:#ffa54d"></div>
<div class="t" style="left:578.5px;top:795.5px;font-size:26px;line-height:31px;color:#333;font-weight:400;">11–20</div>
<div class="t" style="right:593px;top:795.5px;font-size:26px;line-height:31px;color:#333;font-weight:400;">279</div>
<div class="dot" style="left:542px;top:845px;background:#ff8800"></div>
<div class="t" style="left:578.5px;top:839.5px;font-size:26px;line-height:31px;color:#333;font-weight:400;">4–10</div>
<div class="t" style="right:593px;top:839.5px;font-size:26px;line-height:31px;color:#333;font-weight:400;">156</div>
<div class="dot" style="left:542px;top:889px;background:#cc6600"></div>
<div class="t" style="left:578.5px;top:883.5px;font-size:26px;line-height:31px;color:#333;font-weight:400;">1–3</div>
<div class="t" style="right:593px;top:883.5px;font-size:26px;line-height:31px;color:#333;font-weight:400;">88</div>
</div>
</div></div>
</body></html>
